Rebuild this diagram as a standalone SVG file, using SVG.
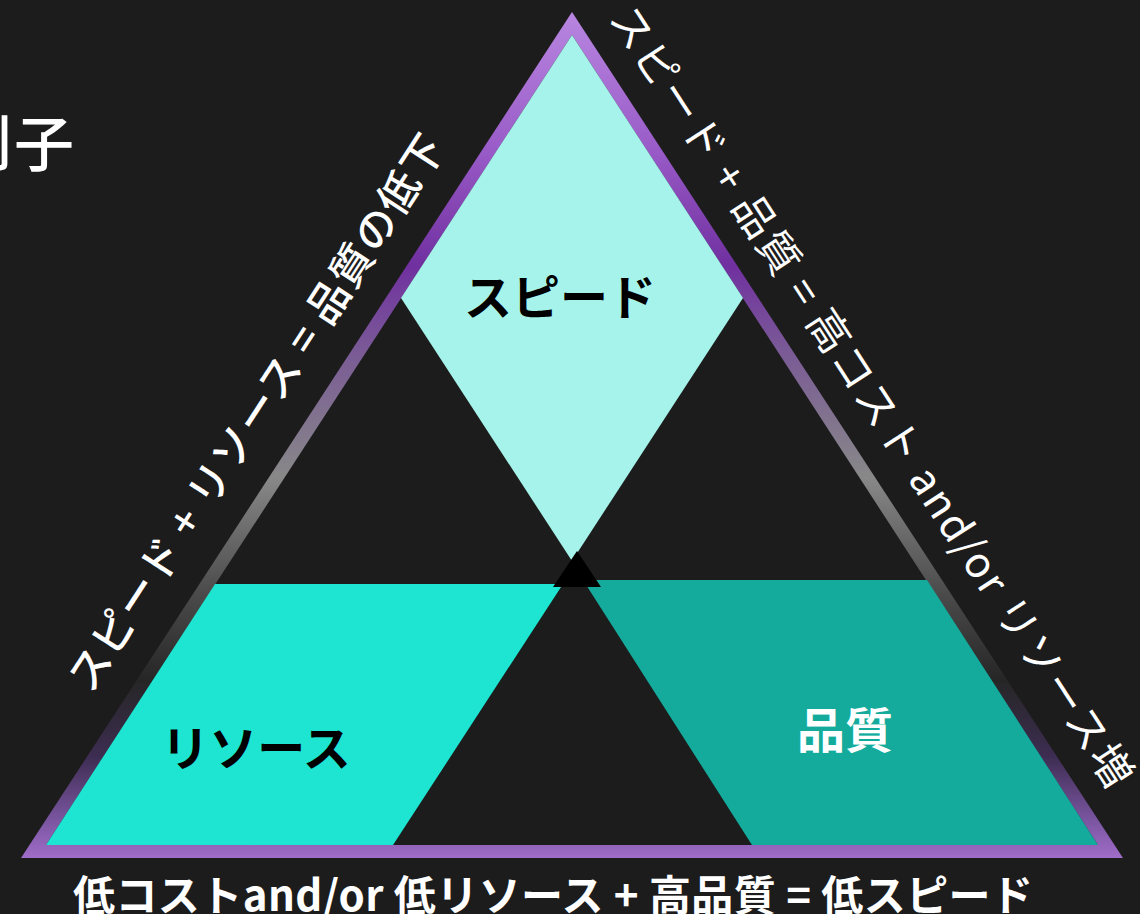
<svg xmlns="http://www.w3.org/2000/svg" width="1140" height="914" viewBox="0 0 1140 914">
  <defs>
    <linearGradient id="edgeGrad" x1="0" y1="0" x2="0" y2="1">
      <stop offset="0" stop-color="#b886e0"/>
      <stop offset="0.16" stop-color="#9a5cc8"/>
      <stop offset="0.30" stop-color="#7030a0"/>
      <stop offset="0.40" stop-color="#7a5a96"/>
      <stop offset="0.55" stop-color="#888888"/>
      <stop offset="0.69" stop-color="#4a4a4a"/>
      <stop offset="0.79" stop-color="#262626"/>
      <stop offset="0.88" stop-color="#3d2d52"/>
      <stop offset="0.955" stop-color="#7a55a0"/>
      <stop offset="1" stop-color="#a06cc8"/>
    </linearGradient>
    <style>
      .jp { font-family: "Noto Sans CJK JP", "Noto Sans", sans-serif; }
      .label { font-size: 48px; font-weight: 700; text-anchor: middle; }
      .edge { font-size: 42px; fill: #ffffff; text-anchor: middle; dominant-baseline: central; }
    </style>
  </defs>
  <rect x="0" y="0" width="1140" height="914" fill="#1c1c1c"/>
  <text class="jp" x="-46" y="166" font-size="60" font-weight="500" fill="#ffffff">刂子</text>

  <g id="frame">
    <polygon points="572,12 21,858 1123,858" fill="url(#edgeGrad)"/>
    <polygon points="572,35 46,845 1098,845" fill="#1c1c1c"/>
  </g>

  <g id="node-speed">
    <polygon points="572,35 401,298 572,561 743,298" fill="#a5f3ea"/>
    <text class="jp label" x="560" y="315" fill="#000000">スピード</text>
  </g>

  <g id="node-resource">
    <polygon points="215,584 563,584 393,845 46,845" fill="#1de5d2"/>
    <text class="jp label" x="256" y="766" fill="#000000">リソース</text>
  </g>

  <g id="node-quality">
    <polygon points="583,580 927,580 1098,845 752,845" fill="#14ab9c"/>
    <text class="jp label" x="845" y="748" fill="#ffffff">品質</text>
  </g>

  <g id="node-center">
    <polygon points="577,551 553,587 601,587" fill="#000000"/>
  </g>

  <g id="connectors">
    <text class="jp edge" x="253.5" y="410.7" font-weight="500" transform="rotate(-57 253.5 410.7)" textLength="653" lengthAdjust="spacing">スピード + リソース = 品質の低下</text>
    <text class="jp edge" x="874.5" y="394.5" font-size="44" transform="rotate(57 874.5 394.5)" textLength="922" lengthAdjust="spacing">スピード + 品質 = 高コスト and/or リソース増</text>
    <text class="jp" x="73" y="911" font-size="42" font-weight="700" fill="#ffffff" textLength="960" lengthAdjust="spacing">低コストand/or 低リソース + 高品質 = 低スピード</text>
  </g>
</svg>
